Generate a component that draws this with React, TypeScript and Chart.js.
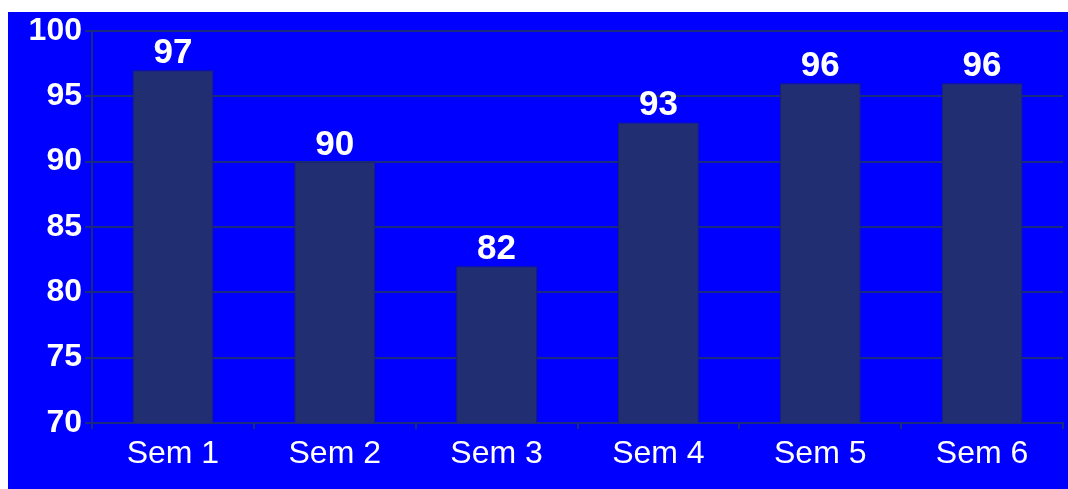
import React, { useEffect, useRef } from "react";
import { Chart, registerables } from "chart.js";

Chart.register(...registerables);

const categories = ["Sem 1", "Sem 2", "Sem 3", "Sem 4", "Sem 5", "Sem 6"];
const values = [97, 90, 82, 93, 96, 96];
const yMin = 70;
const yMax = 100;
const yStep = 5;

const FONT = "'Liberation Sans', Arial, Helvetica, sans-serif";

const valueLabels = {
  id: "valueLabels",
  afterDatasetsDraw(chart: any) {
    const ctx = chart.ctx;
    const meta = chart.getDatasetMeta(0);
    ctx.save();
    ctx.fillStyle = "#ffffff";
    ctx.font = `bold 35px ${FONT}`;
    ctx.textAlign = "center";
    ctx.textBaseline = "alphabetic";
    meta.data.forEach((bar: any, i: number) => {
      ctx.fillText(String(values[i]), bar.x, bar.y - 7);
    });
    ctx.restore();
  },
};

export default function App() {
  const ref = useRef<HTMLCanvasElement>(null);
  useEffect(() => {
    if (!ref.current) return;
    const chart = new Chart(ref.current, {
      type: "bar",
      data: {
        labels: categories,
        datasets: [
          {
            data: values,
            backgroundColor: "#222e72",
            borderColor: "#1a2460",
            borderWidth: 1,
            categoryPercentage: 1,
            barPercentage: 0.5,
          },
        ],
      },
      options: {
        responsive: false,
        animation: false,
        layout: { padding: { top: 18, right: 5, left: 0, bottom: 0 } },
        plugins: { legend: { display: false }, tooltip: { enabled: false } },
        scales: {
          x: {
            afterFit: (s: any) => {
              s.height = 66;
            },
            grid: {
              offset: true,
              drawOnChartArea: false,
              color: "#1a2a80",
              tickLength: 6,
              lineWidth: 2,
            },
            border: { color: "#1a2a80", width: 2 },
            ticks: {
              color: "#ffffff",
              font: { family: FONT, size: 32 },
              padding: 6,
            },
          },
          y: {
            min: yMin,
            max: yMax,
            afterFit: (s: any) => {
              s.width = 84;
            },
            grid: { color: "#1a2a80", lineWidth: 2, tickLength: 7 },
            border: { color: "#1a2a80", width: 2 },
            ticks: {
              stepSize: yStep,
              color: "#ffffff",
              font: { family: FONT, size: 32, weight: "bold", lineHeight: 1 },
              padding: 3,
            },
          },
        },
      },
      plugins: [valueLabels],
    });
    return () => chart.destroy();
  }, []);
  return (
    <div
      style={{
        position: "absolute",
        left: 8,
        top: 12,
        width: 1060,
        height: 477,
        background: "#0000ff",
      }}
    >
      <canvas ref={ref} width={1060} height={477} />
    </div>
  );
}
